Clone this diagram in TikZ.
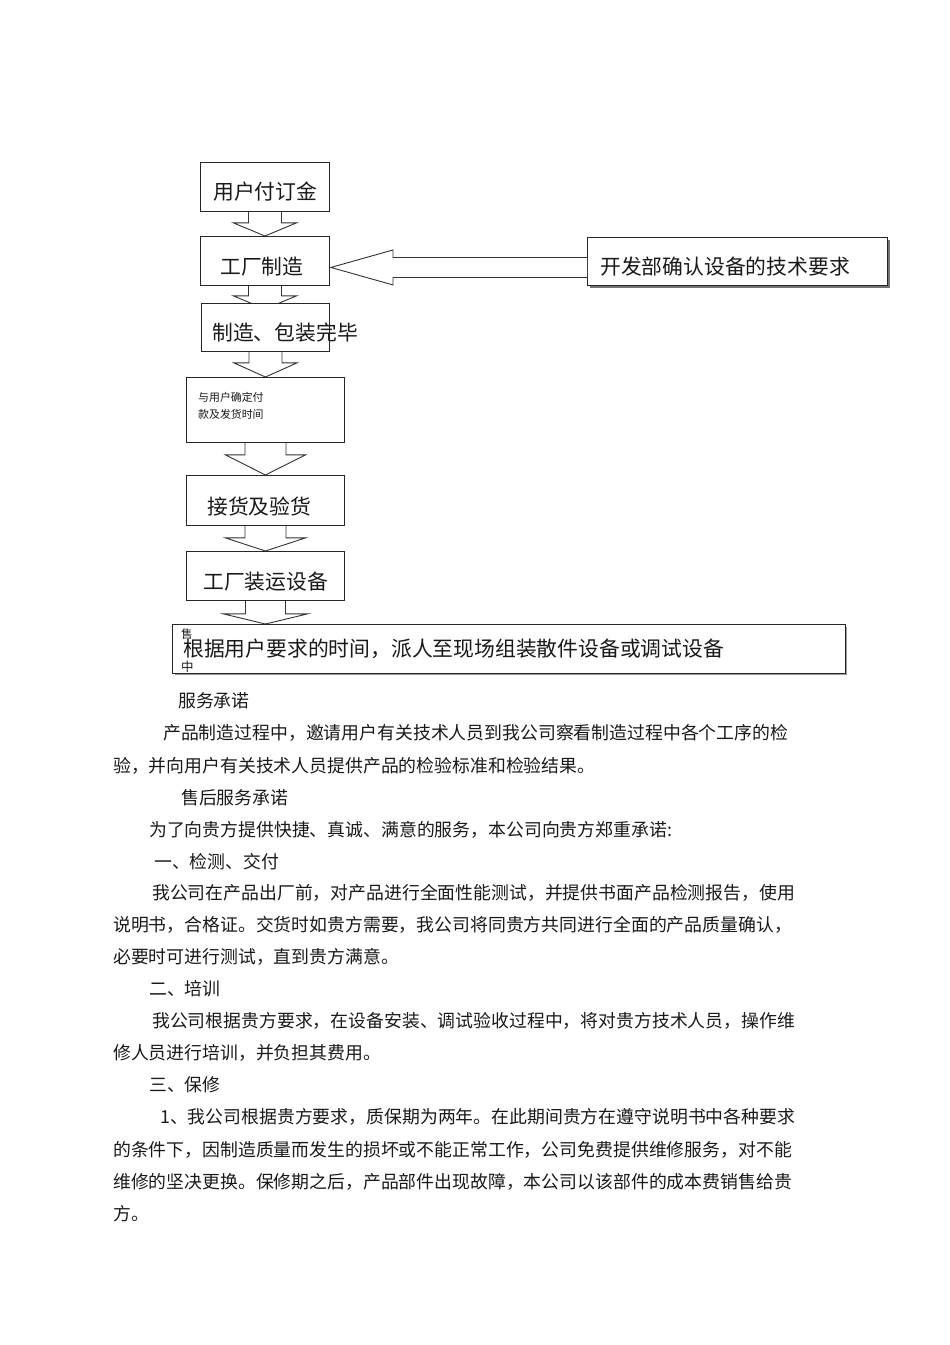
\documentclass[tikz,border=0pt]{standalone}
\usepackage{fontspec}
\newfontfamily\cjk{Noto Sans CJK SC}
\usetikzlibrary{calc}
\pgfdeclarelayer{background}
\pgfsetlayers{background,main}
\newcommand\myfs[1]{\fontsize{#1}{#1}\selectfont}
\newcommand\blockdown[6]{%
  \draw[arr] ($(#1.south)+(-#3,0)$) -- ($(#1.south)+(-#3,#5)$) -- ($(#1.south)+(-#4,#5)$)
    -- ($(#1.south |- #2.north)+(0,#6)$) -- ($(#1.south)+(#4,#5)$) -- ($(#1.south)+(#3,#5)$)
    -- ($(#1.south)+(#3,0)$);}
\tikzset{
  box/.style={draw=black!85, line width=0.9pt, fill=white, inner sep=0pt, anchor=north west},
  arr/.style={draw=black!80, line width=0.9pt, fill=white, line join=miter},
  txt/.style={font=\cjk, anchor=west, inner sep=0pt, text=black!90},
  big/.style={txt, font=\cjk\myfs{20.8}},
  body/.style={txt, font=\cjk\myfs{17.86}},
  small/.style={txt, font=\cjk\myfs{10.9}},
}
\begin{document}
\begin{tikzpicture}[x=1pt, y=-1pt]
\useasboundingbox (0,0) rectangle (950,1345);

% boxes
\node[box, minimum width=129pt, minimum height=49pt] (b1) at (200,162) {};
\node[box, minimum width=129pt, minimum height=49pt] (b2) at (200,236) {};
\node[box, minimum width=128pt, minimum height=48pt] (b3) at (201,303) {};
\node[box, minimum width=158pt, minimum height=65pt] (b4) at (186,377) {};
\node[box, minimum width=158pt, minimum height=50pt] (b5) at (186,475) {};
\node[box, minimum width=158pt, minimum height=49pt] (b6) at (186,551) {};
\node[box, minimum width=673pt, minimum height=49pt] (b7) at (172,624) {};
\node[box, minimum width=300pt, minimum height=48pt] (r) at (587,237) {};

% shadows and block arrows behind the boxes
\begin{pgfonlayer}{background}
\fill[black!55] ($(r.north west)+(3,3)$) rectangle ($(r.south east)+(1.6,1.6)$);
\fill[black!40] ($(b7.north west)+(3,3)$) rectangle ($(b7.south east)+(1.2,1.4)$);
\blockdown{b1}{b2}{16.5}{31.5}{11}{0}
\blockdown{b2}{b3}{16.5}{31.5}{10}{6}
\blockdown{b3}{b4}{16.5}{31.5}{11}{0}
\blockdown{b4}{b5}{20.5}{40}{12}{0}
\blockdown{b5}{b6}{20.5}{40}{12}{0}
\blockdown{b6}{b7}{20}{42}{13}{0}
\end{pgfonlayer}
\draw[arr] ($(r.west)+(0,-4)$) -- ($(r.west)+(-194,-4)$) -- ($(r.west)+(-194,-11.5)$)
  -- ($(b2.east)+(1,6.5)$) -- ($(r.west)+(-194,23.5)$) -- ($(r.west)+(-194,16)$)
  -- ($(r.west)+(0,16)$);

% box texts
\node[big] (l1) at (213,192) {用户付订金};
\node[big] (l2) at (220,267) {工厂制造};
\node[big] (l3) at (212,333) {制造、包装完毕};
\node[small] (l4a) at (198,397) {与用户确定付};
\node[small] (l4b) at (198,414) {款及发货时间};
\node[big] (l5) at (207,507) {接货及验货};
\node[big] (l6) at (203,582) {工厂装运设备};
\node[big] (lr) at (600,267) {开发部确认设备的技术要求};
\node[txt, font=\cjk\myfs{11.5}] (l7a) at (181,634) {售};
\node[txt, font=\cjk\myfs{12.5}] (l7b) at (181,667) {中};
\node[big] (l7) at (183,649) {根据用户要求的时间，派人至现场组装散件设备或调试设备};

% body text
\node[body] (t1) at (178,701) {服务承诺};
\node[body] (t2) at (163,733) {产品制造过程中，邀请用户有关技术人员到我公司察看制造过程中各个工序的检};
\node[body] (t3) at (113,766) {验，并向用户有关技术人员提供产品的检验标准和检验结果。};
\node[body] (t4) at (181,798) {售后服务承诺};
\node[body] (t5) at (149,830) {为了向贵方提供快捷、真诚、满意的服务，本公司向贵方郑重承诺:};
\node[body] (t6) at (154,862) {一、检测、交付};
\node[body] (t7) at (152,893) {我公司在产品出厂前，对产品进行全面性能测试，并提供书面产品检测报告，使用};
\node[body] (t8) at (113,925) {说明书，合格证。交货时如贵方需要，我公司将同贵方共同进行全面的产品质量确认，};
\node[body] (t9) at (113,957) {必要时可进行测试，直到贵方满意。};
\node[body] (t10) at (149,989) {二、培训};
\node[body] (t11) at (152,1021) {我公司根据贵方要求，在设备安装、调试验收过程中，将对贵方技术人员，操作维};
\node[body] (t12) at (113,1053) {修人员进行培训，并负担其费用。};
\node[body] (t13) at (149,1085) {三、保修};
\node[body] (t14) at (160,1117) {1、我公司根据贵方要求，质保期为两年。在此期间贵方在遵守说明书中各种要求};
\node[body] (t15) at (113,1150) {的条件下，因制造质量而发生的损坏或不能正常工作，公司免费提供维修服务，对不能};
\node[body] (t16) at (113,1182) {维修的坚决更换。保修期之后，产品部件出现故障，本公司以该部件的成本费销售给贵};
\node[body] (t17) at (113,1214) {方。};
\end{tikzpicture}
\end{document}
